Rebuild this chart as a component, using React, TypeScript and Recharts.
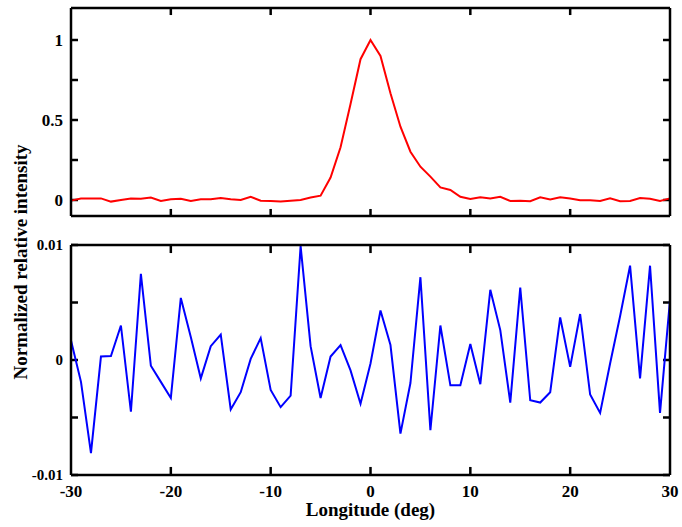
import React from 'react';
import { LineChart, Line, XAxis, YAxis, ReferenceLine } from 'recharts';

const longitude = [
  -30, -29, -28, -27, -26, -25, -24, -23, -22, -21, -20, -19, -18, -17, -16, -15, -14, -13, -12, -11,
  -10, -9, -8, -7, -6, -5, -4, -3, -2, -1, 0, 1, 2, 3, 4, 5, 6, 7, 8, 9,
  10, 11, 12, 13, 14, 15, 16, 17, 18, 19, 20, 21, 22, 23, 24, 25, 26, 27, 28, 29, 30,
];

const intensity = [
  -0.004, 0.01, 0.01, 0.01, -0.01, 0, 0.01, 0.008, 0.015, -0.006, 0.004, 0.008, -0.006, 0.004, 0.004, 0.012, 0.004, 0, 0.02, -0.004,
  -0.006, -0.01, -0.004, 0, 0.015, 0.027, 0.14, 0.33, 0.6, 0.88, 1.0, 0.9, 0.667, 0.458, 0.302, 0.208, 0.146, 0.079, 0.0625, 0.02,
  0.006, 0.017, 0.01, 0.02, -0.006, -0.004, -0.008, 0.017, 0.004, 0.017, 0.01, -0.002, -0.002, -0.006, 0.01, -0.008, -0.006, 0.012, 0.008, -0.006, 0.01,
];

const residual = [
  0.0017, -0.0019, -0.0081, 0.0003, 0.00035, 0.003, -0.0045, 0.0075, -0.0005, -0.0019, -0.0033, 0.0054, 0.002, -0.0016, 0.0012, 0.0022, -0.0043, -0.0028, 0.0001, 0.0019,
  -0.0026, -0.0041, -0.0031, 0.0099, 0.0012, -0.0033, 0.0003, 0.0013, -0.0009, -0.0038, -0.0003, 0.0043, 0.0013, -0.0064, -0.002, 0.0072, -0.0061, 0.003, -0.0022, -0.0022,
  0.0014, -0.0021, 0.0061, 0.0026, -0.0037, 0.0063, -0.0035, -0.0037, -0.0028, 0.0037, -0.0006, 0.004, -0.003, -0.0046, -0.0003, 0.0038, 0.0082, -0.0016, 0.0082, -0.0046, 0.0052,
];

const xTicks = [-30, -20, -10, 0, 10, 20, 30];
const topTicks = [0, 0.25, 0.5, 0.75, 1];
const bottomTicks = [-0.01, -0.005, 0, 0.005, 0.01];
const topLabels = ['0', '', '0.5', '', '1'];
const bottomLabels = ['-0.01', '', '0', '', '0.01'];
const xLabels = ['-30', '-20', '-10', '0', '10', '20', '30'];

const topData = longitude.map((x, i) => ({ x, y: intensity[i] }));
const bottomData = longitude.map((x, i) => ({ x, y: residual[i] }));

const font = '"Liberation Serif", "Times New Roman", serif';
const frame = { stroke: '#000', strokeWidth: 2.5 };

// inward tick length in data units (about 7px)
const xTickLen = 0.7;
const topDomain = [-0.1, 1.2];
const topTickLen = 0.044;
const bottomDomain = [-0.01, 0.01];
const bottomTickLen = 0.0007;

function makeLabel(side: 'left' | 'bottom' | 'none', labels?: string[], fontSize = 17) {
  return (props: any) => {
    const x = Number(props.x);
    const y = Number(props.y);
    const label = labels ? labels[props.index] : '';
    if (!label || side === 'none') return <g />;
    if (side === 'left') {
      return (
        <text x={x - 8} y={y} textAnchor="end" dominantBaseline="central" fill="#000"
          fontSize={fontSize} fontWeight="bold" fontFamily={font}>{label}</text>
      );
    }
    return (
      <text x={x} y={y + 16} textAnchor="middle" dominantBaseline="central" fill="#000"
        fontSize={fontSize} fontWeight="bold" fontFamily={font}>{label}</text>
    );
  };
}

// tick marks as short reference segments on all four sides of a panel
function tickSegments(yDomain: number[], yTicks: number[], yLen: number) {
  const [lo, hi] = yDomain;
  const out: React.ReactNode[] = [];
  xTicks.slice(1, -1).forEach((t) => {
    out.push(<ReferenceLine key={`xt${t}`} xAxisId="b" yAxisId="l" segment={[{ x: t, y: hi }, { x: t, y: hi - yLen }]} stroke="#000" strokeWidth={2.5} />);
    out.push(<ReferenceLine key={`xb${t}`} xAxisId="b" yAxisId="l" segment={[{ x: t, y: lo }, { x: t, y: lo + yLen }]} stroke="#000" strokeWidth={2.5} />);
  });
  yTicks.forEach((v) => {
    out.push(<ReferenceLine key={`yl${v}`} xAxisId="b" yAxisId="l" segment={[{ x: -30, y: v }, { x: -30 + xTickLen, y: v }]} stroke="#000" strokeWidth={2.5} />);
    out.push(<ReferenceLine key={`yr${v}`} xAxisId="b" yAxisId="l" segment={[{ x: 30, y: v }, { x: 30 - xTickLen, y: v }]} stroke="#000" strokeWidth={2.5} />);
  });
  return out;
}

export default function App() {
  return (
    <div style={{ position: 'absolute', left: 0, top: 0, width: 682, height: 527, background: '#fff', fontFamily: font }}>
      <div style={{ position: 'absolute', left: 0, top: 0 }}>
        <LineChart width={682} height={222} data={topData} margin={{ top: 7, right: 11, bottom: 5, left: 11 }}>
          <XAxis xAxisId="b" dataKey="x" type="number" domain={[-30, 30]} ticks={xTicks} interval={0}
            orientation="bottom" height={1} tick={makeLabel('none')} tickSize={0} tickMargin={0} tickLine={false} axisLine={frame} />
          <XAxis xAxisId="t" dataKey="x" type="number" domain={[-30, 30]} ticks={xTicks} interval={0}
            orientation="top" height={1} tick={makeLabel('none')} tickSize={0} tickMargin={0} tickLine={false} axisLine={frame} />
          <YAxis yAxisId="l" type="number" domain={topDomain} ticks={topTicks} interval={0} width={60}
            tick={makeLabel('left', topLabels, 17)} tickSize={0} tickMargin={0} tickLine={false} axisLine={frame} />
          <YAxis yAxisId="r" orientation="right" type="number" domain={topDomain} ticks={topTicks} interval={0}
            width={1} tick={makeLabel('none')} tickSize={0} tickMargin={0} tickLine={false} axisLine={frame} />
          {tickSegments(topDomain, topTicks, topTickLen)}
          <Line xAxisId="b" yAxisId="l" dataKey="y" stroke="#ff0000" strokeWidth={2} dot={false} isAnimationActive={false} />
        </LineChart>
      </div>
      <div style={{ position: 'absolute', left: 0, top: 230 }}>
        <LineChart width={682} height={297} data={bottomData} margin={{ top: 14, right: 11, bottom: 0, left: 11 }}>
          <XAxis xAxisId="b" dataKey="x" type="number" domain={[-30, 30]} ticks={xTicks} interval={0}
            orientation="bottom" height={52} tick={makeLabel('bottom', xLabels, 17)} tickSize={0} tickMargin={0} tickLine={false} axisLine={frame}
            label={{ value: 'Longitude (deg)', position: 'insideBottom', offset: 11, fill: '#000', fontSize: 19, fontWeight: 'bold', fontFamily: font }} />
          <XAxis xAxisId="t" dataKey="x" type="number" domain={[-30, 30]} ticks={xTicks} interval={0}
            orientation="top" height={1} tick={makeLabel('none')} tickSize={0} tickMargin={0} tickLine={false} axisLine={frame} />
          <YAxis yAxisId="l" type="number" domain={bottomDomain} ticks={bottomTicks} interval={0} width={60}
            tick={makeLabel('left', bottomLabels, 15)} tickSize={0} tickMargin={0} tickLine={false} axisLine={frame} />
          <YAxis yAxisId="r" orientation="right" type="number" domain={bottomDomain} ticks={bottomTicks} interval={0}
            width={1} tick={makeLabel('none')} tickSize={0} tickMargin={0} tickLine={false} axisLine={frame} />
          {tickSegments(bottomDomain, bottomTicks, bottomTickLen)}
          <Line xAxisId="b" yAxisId="l" dataKey="y" stroke="#0000ff" strokeWidth={2} dot={false} isAnimationActive={false} />
        </LineChart>
      </div>
      <svg width={40} height={527} style={{ position: 'absolute', left: 0, top: 0 }}>
        <text x={20} y={262} transform="rotate(-90 20 262)" textAnchor="middle" dominantBaseline="central"
          fill="#000" fontSize={19} fontWeight="bold" fontFamily={font}>
          Normalized relative intensity
        </text>
      </svg>
    </div>
  );
}
